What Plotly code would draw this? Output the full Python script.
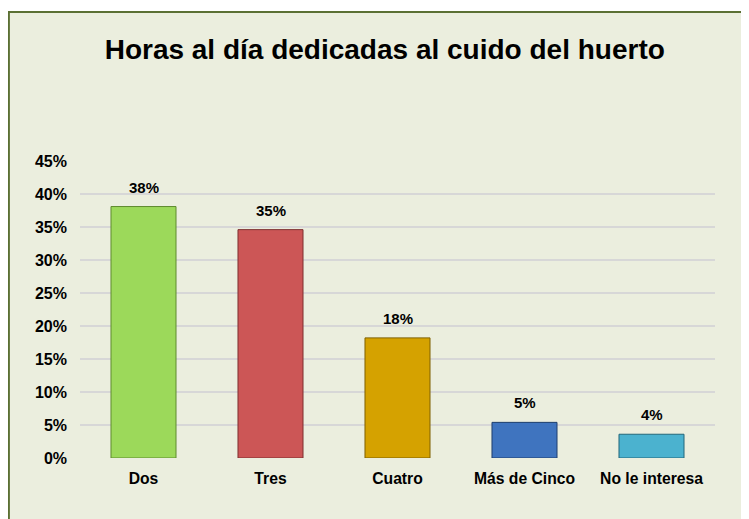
import plotly.graph_objects as go

# Horas al día dedicadas al cuido del huerto
categorias = ['Dos', 'Tres', 'Cuatro', 'Más de Cinco', 'No le interesa']
porcentajes = [0.381, 0.346, 0.182, 0.054, 0.036]
colores = ['#9CD95A', '#CC5656', '#D5A200', '#3F74BF', '#4BB2CF']
bordes = ['#5E8A2E', '#7E2F2F', '#7F6000', '#1F3F6E', '#23677A']
ticks_y = [0, 0.05, 0.10, 0.15, 0.20, 0.25, 0.30, 0.35, 0.40, 0.45]

FONT = 'Liberation Sans, Arial, sans-serif'

fig = go.Figure()
fig.add_trace(go.Bar(
    x=categorias,
    y=porcentajes,
    marker=dict(color=colores, line=dict(color=bordes, width=1)),
    hoverinfo='x+y',
))

# data labels above each bar
for cat, val in zip(categorias, porcentajes):
    fig.add_annotation(
        x=cat, y=val, text=f'<b>{round(val * 100):.0f}%</b>',
        showarrow=False, yanchor='bottom', yshift=9,
        font=dict(family=FONT, size=15, color='#000000'),
    )

# chart area background with olive border
fig.add_shape(
    type='rect', xref='paper', yref='paper',
    x0=-0.112, x1=1.2, y0=-0.3, y1=1.502,
    fillcolor='#EBEEDE', line=dict(color='#5B7033', width=2),
    layer='below',
)

# page body adds an 8px offset, margins are shifted to compensate
fig.update_layout(
    width=749, height=519,
    margin=dict(l=72, r=42, t=153, b=69),
    paper_bgcolor='white',
    plot_bgcolor='rgba(0,0,0,0)',
    showlegend=False,
    bargap=0.488,
    title=dict(
        text='<b>Horas al día dedicadas al cuido del huerto</b>',
        x=0.503, xanchor='center', y=0.921, yanchor='middle',
        font=dict(family=FONT, size=28, color='#000000'),
    ),
    font=dict(family=FONT, color='#000000'),
    xaxis=dict(
        showgrid=False, showline=False, zeroline=False,
        tickfont=dict(family=FONT, size=15.7, color='#000000', weight='bold'),
        ticklabelstandoff=9,
    ),
    yaxis=dict(
        range=[0, 0.45], tickvals=ticks_y, tickformat='.0%',
        showgrid=True, gridcolor='#D7D7D7', gridwidth=1.5,
        zeroline=False, showline=False,
        tickfont=dict(family=FONT, size=16, color='#000000', weight='bold'),
        ticklabelstandoff=12,
    ),
)

fig.write_html('out.html')
